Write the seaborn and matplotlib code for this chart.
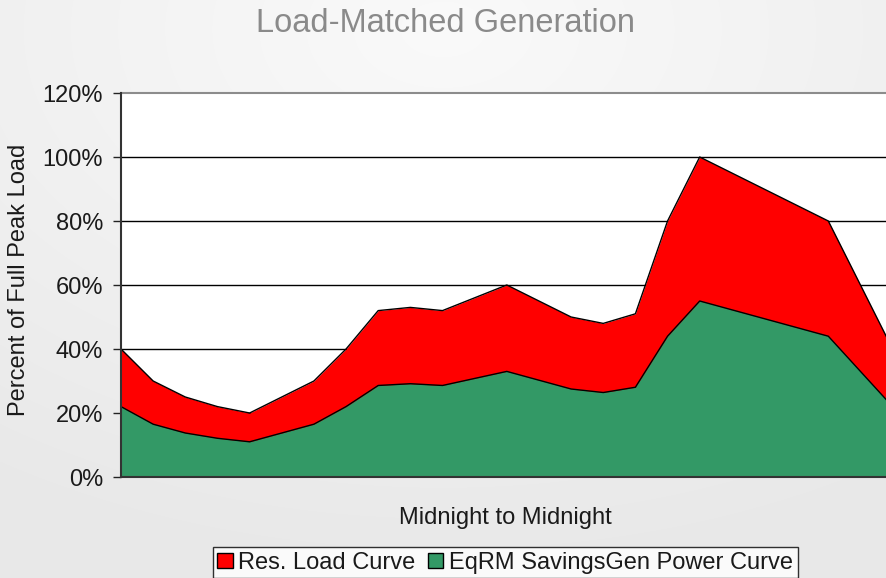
import numpy as np
import pandas as pd
import matplotlib
matplotlib.use("Agg")
import matplotlib.pyplot as plt
import seaborn as sns
from matplotlib.patches import Patch

# ---- data ----
hours = list(range(25))
res_load = [40, 30, 25, 22, 20, 25, 30, 40, 52, 53, 52, 56, 60, 55, 50, 48, 51,
            80, 100, 95, 90, 85, 80, 60, 40]
savingsgen = [22, 16.5, 13.75, 12.1, 11, 13.75, 16.5, 22, 28.6, 29.15, 28.6, 30.8,
              33, 30.25, 27.5, 26.4, 28.05, 44, 55, 52.25, 49.5, 46.75, 44, 33, 22]
y_ticks = [0, 20, 40, 60, 80, 100, 120]
y_tick_labels = ["0%", "20%", "40%", "60%", "80%", "100%", "120%"]
series_names = ["Res. Load Curve", "EqRM SavingsGen Power Curve"]
title = "Load-Matched Generation"
x_label = "Midnight to Midnight"
y_label = "Percent of Full Peak Load"

df = pd.DataFrame({"hour": hours, "load": res_load, "gen": savingsgen})

sns.set_style("white")
plt.rcParams["font.family"] = ["Liberation Sans", "DejaVu Sans"]

W, H = 886, 578
fig = plt.figure(figsize=(W / 100, H / 100), dpi=100)

# background gradient
bg = fig.add_axes([0, 0, 1, 1], zorder=-10)
yy, xx = np.mgrid[0:H, 0:W]
r = np.sqrt(((xx - W * 0.5) / W) ** 2 + ((yy - H * 0.05) / H) ** 2)
val = 0.98 - 0.07 * np.clip(r / 0.95, 0, 1)
bg.imshow(np.dstack([val, val, val]), aspect="auto", extent=[0, 1, 0, 1])
bg.axis("off")

ax = fig.add_axes([121 / W, (H - 477) / H, (892.6 - 121) / W, 384 / H])
ax.set_facecolor("white")

red = "#FF0000"
green = "#339966"
ax.fill_between(df["hour"], 0, df["load"], color=red, lw=0, zorder=2)
ax.fill_between(df["hour"], 0, df["gen"], color=green, lw=0, zorder=3)
sns.lineplot(data=df, x="hour", y="load", ax=ax, color="black", lw=1.0, zorder=4)
sns.lineplot(data=df, x="hour", y="gen", ax=ax, color="black", lw=1.0, zorder=4)

ax.set_xlim(0, 24)
ax.set_ylim(0, 120)
ax.set_yticks(y_ticks)
ax.set_yticklabels(y_tick_labels, fontsize=17, color="#1a1a1a")
ax.set_xticks([])
ax.tick_params(axis="y", direction="out", length=6, width=1.0, color="#222222",
               pad=7, left=True)
ax.set_axisbelow(True)
ax.yaxis.grid(True, color="black", lw=1.0)
for gl, t in zip(ax.yaxis.get_gridlines(), y_ticks):
    if t == y_ticks[-1] or t == 0:
        gl.set_visible(False)

for s in ["left", "bottom"]:
    ax.spines[s].set_color("#333333")
    ax.spines[s].set_linewidth(1.5)
    ax.spines[s].set_zorder(5)
ax.spines["top"].set_color("#8c8c8c")
ax.spines["top"].set_linewidth(1.5)
ax.spines["right"].set_visible(False)

ax.set_xlabel("")
ax.set_ylabel("")
fig.text(19 / W, 1 - 280 / H, y_label, rotation=90, ha="center", va="center",
         fontsize=17, color="#1a1a1a")
fig.text(505 / W, 1 - 518 / H, x_label, ha="center", va="center",
         fontsize=17, color="#1a1a1a")
fig.text(445.5 / W, 1 - 24 / H, title, ha="center", va="center",
         fontsize=23.5, color="#8a8a8a")

handles = [Patch(facecolor=red, edgecolor="black", lw=1.0),
           Patch(facecolor=green, edgecolor="black", lw=1.0)]
leg = fig.legend(handles, series_names, loc="upper center",
                 bbox_to_anchor=(505 / W, 1 - 547 / H), ncol=2, fontsize=17,
                 frameon=True, fancybox=False, edgecolor="black",
                 handlelength=0.65, handleheight=0.65, handletextpad=0.25,
                 columnspacing=0.5, borderpad=0.2, borderaxespad=0)
leg.get_frame().set_linewidth(1.0)
leg.get_frame().set_facecolor("white")
for t in leg.get_texts():
    t.set_color("#1a1a1a")

fig.savefig("out.png", dpi=100)
